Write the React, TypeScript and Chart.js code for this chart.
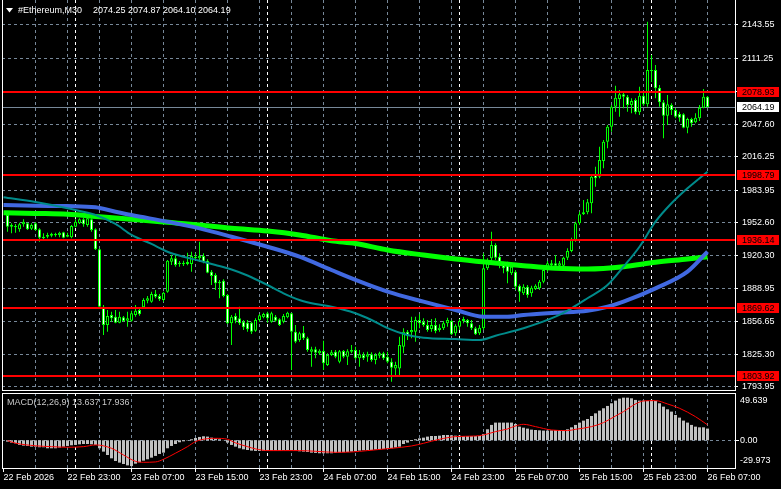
import React, { useEffect, useRef } from 'react';
import { Chart, registerables } from 'chart.js';
Chart.register(...registerables);

// ---------- DATA ----------
const symbolTitle = '#Ethereum,M30';
const openP = [1959.9,1948.6,1949.3,1946.1,1950.9,1951.9,1946.6,1951.9,1946.1,1937.4,1938.9,1939.9,1941.5,1940.6,1943.2,1938.9,1938.3,1948.6,1951.9,1955.7,1950.2,1955.7,1946.1,1926.7,1871.2,1853.6,1863.2,1861.6,1855.8,1861.0,1857.7,1857.7,1863.2,1868.1,1870.7,1877.1,1876.1,1883.5,1881.6,1877.7,1885.8,1914.7,1918.0,1912.5,1913.8,1912.5,1912.5,1919.6,1918.0,1920.3,1915.7,1905.1,1901.9,1893.9,1896.4,1882.5,1855.2,1862.3,1860.0,1856.8,1855.8,1855.8,1848.0,1858.4,1861.0,1864.9,1856.8,1861.6,1859.1,1856.8,1861.0,1864.9,1847.1,1839.1,1846.1,1840.7,1827.7,1830.1,1826.2,1828.4,1814.9,1824.6,1827.7,1818.1,1828.4,1822.9,1827.7,1829.4,1821.4,1824.6,1822.9,1825.2,1819.7,1823.9,1826.2,1822.9,1818.1,1811.6,1811.6,1832.6,1847.1,1846.5,1847.1,1858.4,1856.8,1853.6,1849.7,1853.6,1848.7,1850.4,1855.2,1857.4,1845.5,1851.9,1857.4,1858.4,1855.2,1850.4,1845.5,1850.4,1908.4,1918.0,1930.9,1919.6,1913.2,1913.2,1903.5,1905.1,1891.6,1884.2,1890.6,1884.2,1888.4,1889.0,1895.4,1906.7,1911.6,1913.2,1910.9,1910.9,1918.6,1925.1,1935.7,1951.9,1960.6,1962.5,1971.2,1998.5,1996.9,2012.1,2030.7,2045.2,2064.6,2072.0,2076.6,2074.2,2066.2,2071.0,2059.2,2075.2,2066.9,2100.0,2100.0,2082.9,2068.8,2055.9,2066.2,2061.4,2057.5,2057.2,2044.3,2052.7,2049.5,2053.3,2063.6,2074.25];
const highP = [1961.1,1951.9,1951.2,1952.4,1955.7,1952.4,1951.9,1952.8,1947.0,1942.2,1942.8,1942.8,1942.8,1943.7,1943.7,1942.8,1950.2,1955.7,1956.7,1957.3,1958.2,1956.7,1947.0,1927.3,1872.9,1868.1,1866.4,1868.1,1866.4,1862.3,1866.4,1867.4,1872.9,1869.7,1879.4,1881.6,1885.8,1887.4,1883.5,1885.8,1916.4,1921.2,1921.2,1915.4,1915.7,1923.5,1924.4,1922.9,1934.1,1922.9,1917.1,1906.7,1903.5,1897.1,1897.7,1883.5,1863.2,1864.9,1871.2,1858.4,1858.4,1856.8,1860.0,1864.2,1865.4,1866.4,1866.4,1863.2,1860.0,1864.2,1866.4,1865.4,1853.6,1847.1,1852.6,1842.2,1832.6,1832.6,1830.1,1838.4,1826.2,1829.4,1829.4,1829.4,1829.4,1830.1,1834.2,1832.6,1829.4,1827.2,1827.7,1827.2,1826.2,1827.7,1827.7,1827.7,1821.4,1818.1,1842.2,1850.4,1848.7,1861.6,1861.6,1863.9,1860.0,1858.4,1859.4,1860.0,1854.2,1857.4,1860.6,1858.4,1854.2,1859.4,1861.6,1859.4,1858.4,1851.9,1853.6,1922.9,1918.0,1943.7,1932.5,1922.9,1914.7,1914.7,1913.2,1906.7,1892.9,1892.9,1892.2,1891.6,1892.9,1897.1,1908.4,1915.4,1916.4,1921.2,1915.4,1919.6,1927.7,1938.0,1953.4,1963.1,1974.4,1975.4,1998.5,2006.6,2025.9,2032.4,2046.9,2066.2,2084.9,2080.7,2079.1,2075.9,2072.7,2072.7,2083.9,2079.1,2146.7,2114.5,2104.9,2085.5,2071.0,2075.9,2067.9,2063.0,2059.7,2058.2,2053.9,2053.9,2058.2,2066.2,2081.7,2074.87];
const lowP = [1943.7,1942.2,1942.8,1943.7,1948.6,1945.4,1945.4,1944.7,1934.1,1935.7,1937.4,1938.3,1938.9,1938.3,1937.4,1938.3,1937.4,1948.0,1951.2,1948.6,1948.6,1943.7,1926.1,1870.7,1843.9,1847.1,1856.8,1855.2,1855.2,1856.8,1851.9,1856.8,1861.6,1862.6,1869.7,1874.5,1875.1,1879.4,1876.8,1876.1,1884.8,1911.6,1909.9,1909.9,1910.6,1911.3,1905.1,1916.4,1914.7,1913.2,1903.5,1892.2,1887.4,1879.4,1880.3,1854.5,1834.2,1855.2,1853.6,1848.7,1847.1,1844.9,1847.1,1856.8,1860.0,1855.8,1855.8,1856.8,1852.6,1855.2,1860.0,1810.1,1835.9,1837.4,1839.1,1827.7,1813.3,1821.4,1824.6,1810.1,1813.9,1823.6,1821.4,1816.5,1821.4,1814.9,1826.2,1819.7,1813.3,1819.7,1818.1,1818.1,1815.6,1821.4,1819.7,1816.5,1798.7,1803.5,1803.5,1826.2,1839.1,1840.7,1837.4,1850.4,1851.9,1847.1,1847.1,1845.5,1847.1,1848.7,1851.9,1843.9,1843.2,1848.7,1855.2,1851.9,1848.7,1843.9,1843.9,1848.7,1906.7,1913.2,1916.4,1908.4,1903.5,1893.9,1901.9,1887.4,1876.1,1882.5,1880.0,1880.9,1887.4,1887.4,1893.9,1905.1,1909.9,1909.9,1908.4,1909.9,1916.4,1923.8,1934.1,1950.2,1959.9,1960.6,1961.5,1987.2,1995.4,2005.0,2024.4,2040.4,2059.7,2054.9,2063.0,2059.7,2058.2,2057.2,2056.5,2065.5,2064.6,2088.4,2072.7,2064.6,2034.0,2046.9,2056.5,2053.3,2050.1,2043.7,2038.9,2045.2,2048.5,2050.7,2063.0,2064.10];
const closeP = [1948.6,1950.2,1948.0,1950.9,1953.4,1946.1,1950.2,1945.4,1937.9,1938.9,1940.6,1941.8,1940.3,1942.8,1937.9,1940.6,1949.3,1953.4,1955.7,1950.9,1956.7,1945.4,1926.7,1871.2,1853.6,1862.3,1860.0,1855.8,1861.6,1857.4,1860.0,1864.9,1867.4,1863.9,1877.7,1879.4,1883.5,1880.9,1878.4,1884.8,1915.7,1918.0,1911.6,1913.8,1912.2,1914.5,1920.3,1918.0,1920.3,1914.7,1904.1,1900.9,1893.9,1895.4,1881.6,1855.2,1861.6,1857.7,1855.2,1851.3,1849.4,1847.1,1858.4,1863.0,1864.2,1860.0,1864.9,1857.7,1853.6,1862.3,1865.4,1847.1,1837.4,1845.5,1840.7,1829.4,1830.1,1826.8,1828.7,1816.5,1824.6,1827.2,1822.9,1828.1,1822.9,1828.1,1829.4,1821.4,1825.2,1821.4,1825.2,1819.7,1824.6,1826.2,1821.4,1818.1,1812.3,1814.9,1834.2,1847.1,1843.2,1848.7,1858.4,1855.2,1853.6,1848.7,1853.6,1847.8,1850.9,1855.2,1858.4,1844.6,1852.9,1857.4,1859.4,1855.2,1850.4,1844.6,1850.9,1908.4,1916.4,1930.9,1918.6,1913.2,1908.4,1905.1,1909.9,1890.6,1885.8,1890.6,1882.5,1889.6,1891.6,1895.4,1906.7,1913.2,1913.2,1910.9,1913.2,1918.6,1925.1,1935.7,1951.9,1960.6,1962.5,1972.1,1996.9,1995.4,2013.0,2030.7,2045.2,2064.6,2073.3,2076.6,2074.2,2066.2,2070.1,2059.2,2075.2,2066.9,2100.0,2099.1,2082.4,2068.8,2055.9,2066.9,2061.4,2054.9,2053.9,2044.3,2052.7,2048.5,2053.9,2063.6,2074.2,2064.19];

// moving averages (bar index, value)
const maSlowIdx = [-1,7,15,23,31,40,48,56,65,73,81,87,95,104,112,120,129,137,145,154,162,170,175];
const maSlow = [1962.1,1961.4,1960.6,1958.2,1955.7,1952.8,1950.2,1947.0,1944.4,1940.6,1935.0,1932.3,1926.1,1921.2,1917.4,1914.2,1910.9,1908.4,1907.7,1909.9,1914.2,1917.4,1919.6];
const maMidIdx = [-1,7,15,22,27,31,40,48,56,65,73,81,87,95,104,112,119,125,129,137,145,150,154,162,170,175];
const maMid = [1969.5,1968.8,1968.5,1967.3,1963.1,1959.9,1953.4,1947.0,1938.9,1929.2,1919.6,1906.7,1897.1,1885.8,1876.1,1868.1,1861.6,1861.6,1863.2,1865.4,1867.4,1871.2,1876.1,1889.0,1905.1,1924.4];
const maFastIdx = [-1,7,15,22,27,31,36,40,44,48,52,56,60,65,69,73,77,81,87,91,95,100,104,112,118,122,129,137,141,145,150,154,158,162,166,170,175];
const maFast = [1977.0,1972.4,1966.4,1959.9,1951.2,1940.6,1931.9,1924.4,1919.6,1915.7,1911.6,1907.2,1901.4,1892.2,1884.2,1877.7,1873.8,1871.2,1864.9,1858.4,1850.6,1843.9,1841.3,1840.0,1839.1,1843.2,1850.4,1861.6,1869.7,1879.4,1892.2,1909.9,1929.2,1953.4,1971.2,1985.7,2001.7];

const priceTicks = [2143.55,2111.25,2079.25,2047.60,2016.25,1983.95,1952.60,1920.30,1888.95,1856.65,1825.30,1793.95];
const levelLines = [2078.93,1998.79,1936.14,1869.62,1803.92];

const macdHist = [-1.6,-2.7,-3.5,-5.4,-6.2,-6.6,-7.4,-7.4,-8.1,-8.1,-9.3,-9.3,-9.3,-8.5,-7.4,-6.6,-5.8,-5.4,-4.7,-4.3,-4.3,-4.7,-5.4,-9.3,-13.2,-17.1,-21.0,-24.1,-26.0,-27.6,-29.2,-29.973,-27.2,-25.6,-23.7,-22.1,-20.2,-18.2,-15.9,-14.4,-9.3,-6.6,-4.3,-2.3,-1.2,-0.4,1.2,2.7,3.9,4.7,4.3,3.1,1.9,1.2,0.2,-2.7,-5.4,-7.4,-9.3,-10.5,-11.3,-12.0,-12.4,-12.4,-12.4,-12.0,-12.0,-12.0,-12.0,-11.6,-11.3,-11.3,-12.0,-12.8,-13.2,-13.6,-14.4,-14.7,-15.1,-15.1,-15.1,-15.1,-14.7,-14.4,-14.0,-13.6,-13.2,-12.8,-12.0,-11.6,-11.3,-11.3,-10.9,-10.5,-10.1,-9.7,-9.3,-8.5,-7.4,-4.3,-2.7,-0.8,1.2,2.3,3.1,4.3,5.0,5.0,5.4,6.2,6.2,5.8,5.4,5.4,5.0,5.0,5.0,5.0,5.0,7.4,12.8,17.9,20.6,20.6,20.6,20.6,20.6,19.0,15.9,14.7,13.6,12.4,12.0,11.6,11.3,11.3,11.6,12.0,12.0,12.0,12.8,15.1,17.9,20.6,22.9,24.8,28.3,31.4,34.5,37.3,40.0,43.1,46.2,48.5,49.639,49.6,48.9,47.0,46.2,46.2,45.8,47.0,45.8,43.1,39.2,36.1,33.4,29.5,26.4,22.9,20.6,17.9,15.9,15.1,15.1,13.637];
const signalIdx = [0,2,7,11,15,19,22,26,29,32,34,37,39,42,45,47,50,52,55,57,60,62,65,69,73,77,82,86,90,96,101,104,108,112,117,119,122,125,127,129,132,136,140,142,146,149,152,154,157,159,162,165,168,172,175];
const signalVals = [-0.4,-3.3,-6.4,-7.4,-8.1,-7.4,-5.4,-9.3,-17.1,-24.5,-25.6,-25.2,-22.1,-15.0,-7.4,-1.5,1.9,2.3,1.2,-3.0,-7.4,-10.0,-12.0,-12.0,-12.0,-12.8,-14.0,-13.6,-12.0,-9.3,-6.6,-3.5,1.2,4.3,5.0,6.2,10.1,13.2,16.7,18.6,15.9,12.0,11.3,12.8,15.9,20.6,28.3,33.4,42.3,45.8,46.2,42.3,37.3,27.5,17.936];
const macdAxisLabels = [49.639, 0, -29.973];

const timeIdx = [-1,15,31,47,63,79,95,111,127,143,159,175];
const timeText = ['22 Feb 2026','22 Feb 23:00','23 Feb 07:00','23 Feb 15:00','23 Feb 23:00','24 Feb 07:00','24 Feb 15:00','24 Feb 23:00','25 Feb 07:00','25 Feb 15:00','25 Feb 23:00','26 Feb 07:00'];
const separatorIdx = [17,65,113,161];

// ---------- STYLE / LAYOUT ----------
const FONT = '"Liberation Sans", Arial, sans-serif';
const GRID = '#778899';
const DASH = [3, 3];
const LIME = '#00ff00';
const X_MIN = -1.375, X_MAX = 181.875;
const P_MAX = 2167.7, P_MIN = 1789.76;
const M_MAX = 55.06, M_MIN = -32.25;
const AXIS_W = 46;

const barIdx = openP.map((_, i) => i);
const last = openP.length - 1;

function vLine(ctx: CanvasRenderingContext2D, x: number, y1: number, y2: number) {
  ctx.beginPath(); ctx.moveTo(x, y1); ctx.lineTo(x, y2); ctx.stroke();
}

function drawVerticalGrid(chart: any) {
  const { ctx, chartArea: a, scales: { x } } = chart;
  ctx.save();
  ctx.lineWidth = 1;
  ctx.setLineDash(DASH);
  ctx.strokeStyle = GRID;
  for (let i = 7; i <= last; i += 8) {
    const px = Math.floor(x.getPixelForValue(i)) + 0.5;
    vLine(ctx, px, a.top, a.bottom);
  }
  ctx.strokeStyle = '#ffffff';
  for (const i of separatorIdx) {
    const px = Math.floor(x.getPixelForValue(i)) + 0.5;
    vLine(ctx, px, a.top, a.bottom);
  }
  ctx.restore();
}

const noPad = (s: any) => { s.paddingTop = 0; s.paddingBottom = 0; s.paddingLeft = 0; s.paddingRight = 0; };

const mainPlugin = {
  id: 'mainDecor',
  beforeDatasetsDraw(chart: any) {
    drawVerticalGrid(chart);
    const { ctx, chartArea: a, scales: { y } } = chart;
    ctx.save();
    ctx.fillStyle = '#778899';
    const by = Math.round(y.getPixelForValue(closeP[last]));
    ctx.fillRect(a.left, by, a.right - a.left, 1);
    ctx.restore();
  },
  afterDatasetsDraw(chart: any) {
    const { ctx, chartArea: a, scales: { y } } = chart;
    ctx.save();
    ctx.font = `9px ${FONT}`;
    ctx.textBaseline = 'middle';
    ctx.textAlign = 'left';
    for (const lv of levelLines) {
      const py = Math.round(y.getPixelForValue(lv));
      ctx.fillStyle = '#ff0000';
      ctx.fillRect(a.left, py - 1, a.right - a.left, 2);
      ctx.fillRect(737, py - 5, 42, 10);
      ctx.fillStyle = '#000000';
      ctx.fillText(lv.toFixed(2), 742, py + 0.5);
    }
    const by = Math.round(y.getPixelForValue(closeP[last]));
    ctx.fillStyle = '#ffffff';
    ctx.fillRect(737, by - 5, 42, 10);
    ctx.fillStyle = '#000000';
    ctx.fillText(closeP[last].toFixed(2), 742, by + 0.5);
    ctx.restore();
  },
  afterDraw(chart: any) {
    const { ctx, chartArea: a } = chart;
    ctx.save();
    ctx.fillStyle = '#ffffff';
    ctx.fillRect(2, 0, 1, a.bottom);
    ctx.fillRect(735, 0, 1, a.bottom);
    ctx.fillRect(2, 390, 734, 1);
    // header
    ctx.beginPath();
    ctx.moveTo(6, 8); ctx.lineTo(13, 8); ctx.lineTo(9.5, 12.5); ctx.closePath(); ctx.fill();
    ctx.font = `9px ${FONT}`;
    ctx.textBaseline = 'middle';
    ctx.fillText(symbolTitle, 18, 10.5);
    const o = openP[last].toFixed(2), h = highP[last].toFixed(2), l = lowP[last].toFixed(2), c = closeP[last].toFixed(2);
    ctx.fillText(`${o} ${h} ${l} ${c}`, 93, 10.5);
    ctx.restore();
  },
};

const macdPlugin = {
  id: 'macdDecor',
  beforeDatasetsDraw(chart: any) {
    drawVerticalGrid(chart);
    const { ctx, chartArea: a, scales: { y } } = chart;
    ctx.save();
    ctx.lineWidth = 1;
    ctx.setLineDash(DASH);
    ctx.strokeStyle = GRID;
    const zy = Math.floor(y.getPixelForValue(0)) + 0.5;
    ctx.beginPath(); ctx.moveTo(a.left, zy); ctx.lineTo(a.right, zy); ctx.stroke();
    ctx.restore();
  },
  afterDraw(chart: any) {
    const { ctx, scales: { x, y } } = chart;
    ctx.save();
    ctx.fillStyle = '#ffffff';
    ctx.fillRect(2, 1, 734, 1);
    ctx.fillRect(2, 76, 734, 1);
    ctx.fillRect(2, 1, 1, 76);
    ctx.fillRect(735, 1, 1, 76);
    for (const i of timeIdx) {
      const px = Math.floor(x.getPixelForValue(i));
      ctx.fillRect(px, 77, 1, 3);
    }
    const zy = Math.floor(y.getPixelForValue(0));
    ctx.fillRect(736, zy, 3, 1);
    ctx.font = `9px ${FONT}`;
    ctx.textBaseline = 'middle';
    ctx.textAlign = 'left';
    const ys = [9, y.getPixelForValue(0) + 0.5, 69];
    macdAxisLabels.forEach((v, k) => {
      const txt = v === 0 ? '0.00' : v.toFixed(3);
      ctx.fillText(txt, 740, ys[k]);
    });
    ctx.fillStyle = '#c8c8c8';
    ctx.fillText(`MACD(12,26,9) ${macdHist[last].toFixed(3)} ${signalVals[signalVals.length - 1].toFixed(3)}`, 7, 10.5);
    ctx.restore();
  },
};

function mainConfig(): any {
  const pts = (idx: number[], vals: number[]) => idx.map((v, k) => ({ x: v, y: vals[k] }));
  return {
    type: 'bar',
    data: {
      datasets: [
        { type: 'line', data: pts(maFastIdx, maFast), borderColor: '#008b8b', borderWidth: 2, pointRadius: 0, cubicInterpolationMode: 'monotone', order: -3 },
        { type: 'line', data: pts(maMidIdx, maMid), borderColor: '#4169e1', borderWidth: 4, pointRadius: 0, cubicInterpolationMode: 'monotone', order: -2 },
        { type: 'line', data: pts(maSlowIdx, maSlow), borderColor: LIME, borderWidth: 5, pointRadius: 0, cubicInterpolationMode: 'monotone', order: -1 },
        {
          type: 'bar', data: barIdx.map(i => ({ x: i, y: [openP[i], closeP[i]] })),
          backgroundColor: (c: any) => (closeP[c.dataIndex] >= openP[c.dataIndex] ? '#000000' : '#ffffff'),
          borderColor: LIME, borderWidth: 1, borderSkipped: false, barThickness: 3, grouped: false,
          inflateAmount: 0, minBarLength: 1, order: 1,
        },
        {
          type: 'bar', data: barIdx.map(i => ({ x: i, y: [lowP[i], highP[i]] })),
          backgroundColor: LIME, barThickness: 1, grouped: false, inflateAmount: 0, order: 2,
        },
      ],
    },
    options: {
      responsive: false, animation: false, devicePixelRatio: 1, events: [],
      layout: { padding: { left: 2, top: 0, right: 0, bottom: 1 } },
      plugins: { legend: { display: false }, tooltip: { enabled: false } },
      scales: {
        x: { type: 'linear', min: X_MIN, max: X_MAX, offset: false, display: false },
        y: {
          type: 'linear', position: 'right', min: P_MIN, max: P_MAX,
          afterFit: (s: any) => { s.width = AXIS_W; noPad(s); },
          afterBuildTicks: (s: any) => { s.ticks = priceTicks.map(v => ({ value: v })); },
          ticks: { color: '#ffffff', font: { family: FONT, size: 9 }, padding: 4, callback: (v: any) => Number(v).toFixed(2) },
          grid: { color: GRID, lineWidth: 1, drawTicks: true, tickLength: 3, tickColor: '#ffffff', tickWidth: 1 },
          border: { display: false, dash: DASH },
        },
      },
    },
    plugins: [mainPlugin],
  };
}

function macdConfig(): any {
  return {
    type: 'bar',
    data: {
      datasets: [
        { type: 'line', data: signalIdx.map((v, k) => ({ x: v, y: signalVals[k] })), borderColor: '#ff0000', borderWidth: 1, pointRadius: 0, cubicInterpolationMode: 'monotone', order: 0 },
        { type: 'bar', data: barIdx.map(i => ({ x: i, y: macdHist[i] })), backgroundColor: '#c0c0c0', barThickness: 3, grouped: false, inflateAmount: 0, order: 1 },
      ],
    },
    options: {
      responsive: false, animation: false, devicePixelRatio: 1, events: [],
      layout: { padding: { left: 2, top: 1, right: 0, bottom: 0 } },
      plugins: { legend: { display: false }, tooltip: { enabled: false } },
      scales: {
        x: {
          type: 'linear', min: X_MIN, max: X_MAX, offset: false, position: 'bottom',
          afterFit: (s: any) => { s.height = 21; noPad(s); },
          afterBuildTicks: (s: any) => { s.ticks = timeIdx.map(v => ({ value: v })); },
          ticks: { color: '#ffffff', font: { family: FONT, size: 9 }, align: 'start', padding: 4, maxRotation: 0, minRotation: 0, autoSkip: false, callback: (_v: any, k: number) => timeText[k] },
          grid: { display: false, drawTicks: false },
          border: { display: false },
        },
        y: {
          type: 'linear', position: 'right', min: M_MIN, max: M_MAX,
          afterFit: (s: any) => { s.width = AXIS_W; noPad(s); },
          ticks: { display: false },
          grid: { display: false, drawTicks: false },
          border: { display: false },
        },
      },
    },
    plugins: [macdPlugin],
  };
}

export default function App() {
  const mainRef = useRef<HTMLCanvasElement>(null);
  const macdRef = useRef<HTMLCanvasElement>(null);
  useEffect(() => {
    document.body.style.margin = '0';
    document.body.style.background = '#000';
    const c1 = new Chart(mainRef.current as HTMLCanvasElement, mainConfig());
    const c2 = new Chart(macdRef.current as HTMLCanvasElement, macdConfig());
    return () => { c1.destroy(); c2.destroy(); };
  }, []);
  return (
    <div style={{ position: 'relative', width: 781, height: 489, background: '#000', overflow: 'hidden' }}>
      <canvas ref={mainRef} width={781} height={392} style={{ position: 'absolute', left: 0, top: 0, width: 781, height: 392 }} />
      <canvas ref={macdRef} width={781} height={97} style={{ position: 'absolute', left: 0, top: 392, width: 781, height: 97 }} />
    </div>
  );
}
